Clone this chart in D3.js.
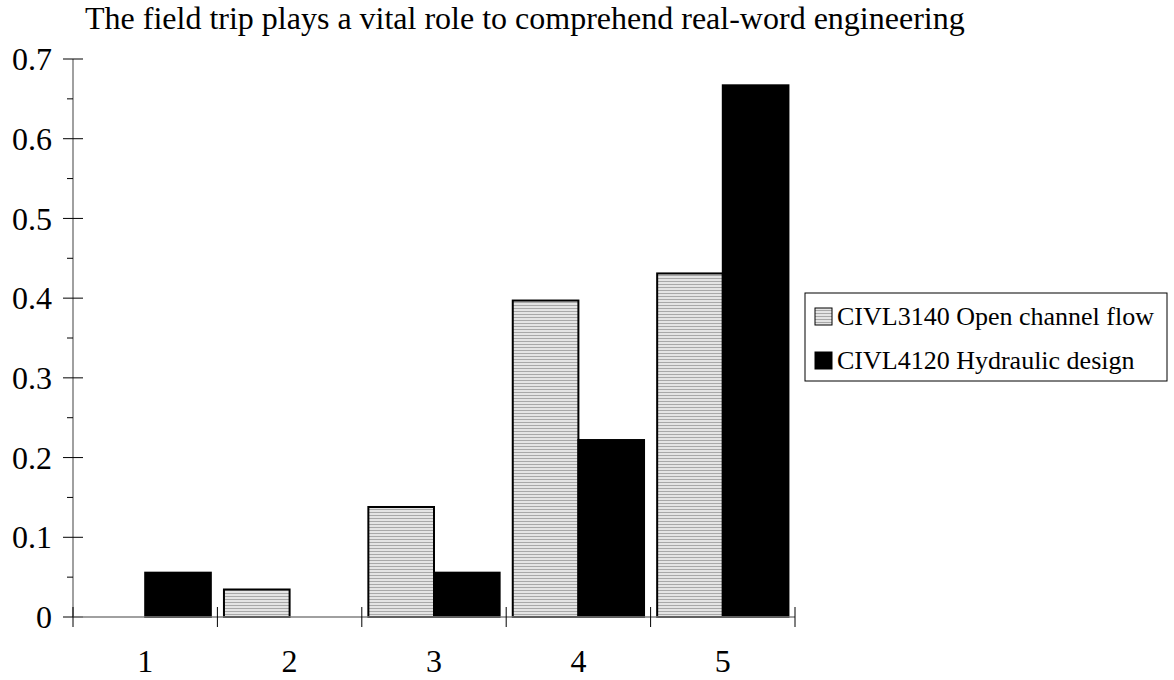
<!DOCTYPE html>
<html>
<head>
<meta charset="utf-8">
<script src="https://cdn.jsdelivr.net/npm/d3@7"></script>
<style>
  body { margin: 0; background: #fff; }
  text { font-family: "Liberation Serif", "Times New Roman", serif; fill: #000; }
</style>
</head>
<body>
<div id="chart"></div>
<script>
// data
const categories = ["1", "2", "3", "4", "5"];
const seriesNames = ["CIVL3140 Open channel flow", "CIVL4120 Hydraulic design"];
const civl3140 = [0, 0.0345, 0.138, 0.397, 0.431];
const civl4120 = [0.0556, 0, 0.0556, 0.222, 0.667];
const yTicks = [0, 0.1, 0.2, 0.3, 0.4, 0.5, 0.6, 0.7];
const titleText = "The field trip plays a vital role to comprehend real-word engineering";

const W = 1174, H = 680;
const margin = { top: 59, right: 379, bottom: 63, left: 73 };
const width = W - margin.left - margin.right,
      height = H - margin.top - margin.bottom;

const svg = d3.select("#chart").append("svg")
    .attr("width", W)
    .attr("height", H);

// striped fill for the light series
const defs = svg.append("defs");
const pat = defs.append("pattern")
    .attr("id", "stripes")
    .attr("patternUnits", "userSpaceOnUse")
    .attr("width", 4).attr("height", 3);
pat.append("rect").attr("width", 4).attr("height", 3).attr("fill", "#e4e4e4");
pat.append("rect").attr("width", 4).attr("height", 1).attr("fill", "#a8a8a8");

const g = svg.append("g").attr("transform", `translate(${margin.left},${margin.top})`);

// scales
const x = d3.scaleBand().domain(categories).range([0, width]).paddingInner(0).paddingOuter(0);
const x1 = d3.scaleBand().domain([0, 1]).range([0, x.bandwidth()]).paddingInner(0).paddingOuter(0.1);
const y = d3.scaleLinear().domain([0, 0.7]).range([height, 0]);

// title
svg.append("text")
    .attr("x", 85).attr("y", 29)
    .style("font-size", "32px")
    .text(titleText);

// bars
const rows = categories.map((c, i) => ({ cat: c, vals: [civl3140[i], civl4120[i]] }));
const fills = ["url(#stripes)", "#000"];

const groups = g.selectAll(".grp").data(rows).join("g")
    .attr("class", "grp")
    .attr("transform", d => `translate(${x(d.cat)},0)`);

groups.selectAll("rect")
    .data(d => d.vals.map((v, k) => ({ k, v })).filter(e => e.v > 0))
    .join("rect")
    .attr("x", e => x1(e.k))
    .attr("y", e => y(e.v))
    .attr("width", x1.bandwidth())
    .attr("height", e => y(0) - y(e.v))
    .attr("fill", e => fills[e.k])
    .attr("stroke", "#000")
    .attr("stroke-width", 2);

// y axis
g.append("line")
    .attr("x1", 0).attr("x2", 0).attr("y1", 0).attr("y2", height)
    .attr("stroke", "#808080").attr("stroke-width", 1.5);
g.selectAll(".ytick").data(yTicks).join("line")
    .attr("x1", -10).attr("x2", 10)
    .attr("y1", d => y(d)).attr("y2", d => y(d))
    .attr("stroke", "#000").attr("stroke-width", 1);
g.selectAll(".yminor").data(yTicks.slice(0, -1)).join("line")
    .attr("x1", -6).attr("x2", 0)
    .attr("y1", d => y(d + 0.05)).attr("y2", d => y(d + 0.05))
    .attr("stroke", "#000").attr("stroke-width", 1);
g.selectAll(".ylab").data(yTicks).join("text")
    .attr("x", -21).attr("y", d => y(d))
    .attr("dy", "0.35em")
    .attr("text-anchor", "end")
    .style("font-size", "32px")
    .text(d => d3.format(".1~f")(d));

// x axis
g.append("line")
    .attr("x1", 0).attr("x2", width).attr("y1", height).attr("y2", height)
    .attr("stroke", "#808080").attr("stroke-width", 1.5);
g.selectAll(".xtick").data(d3.range(categories.length + 1)).join("line")
    .attr("x1", i => i * x.step()).attr("x2", i => i * x.step())
    .attr("y1", height - 10).attr("y2", height + 10)
    .attr("stroke", "#000").attr("stroke-width", 1);
g.selectAll(".xlab").data(categories).join("text")
    .attr("x", d => x(d) + x.bandwidth() / 2)
    .attr("y", height + 55)
    .attr("text-anchor", "middle")
    .style("font-size", "32px")
    .text(d => d);

// legend
const legend = svg.append("g").attr("transform", "translate(805,293)");
legend.append("rect")
    .attr("width", 362).attr("height", 88)
    .attr("fill", "#fff").attr("stroke", "#000").attr("stroke-width", 1);
seriesNames.forEach((name, i) => {
    const row = legend.append("g").attr("transform", `translate(10,${23 + i * 44})`);
    row.append("rect")
        .attr("x", 0).attr("y", -8).attr("width", 17).attr("height", 17)
        .attr("fill", fills[i]).attr("stroke", "#000").attr("stroke-width", 1);
    row.append("text")
        .attr("x", 22).attr("y", 0).attr("dy", "0.35em")
        .style("font-size", "26px")
        .text(name);
});
</script>
</body>
</html>
